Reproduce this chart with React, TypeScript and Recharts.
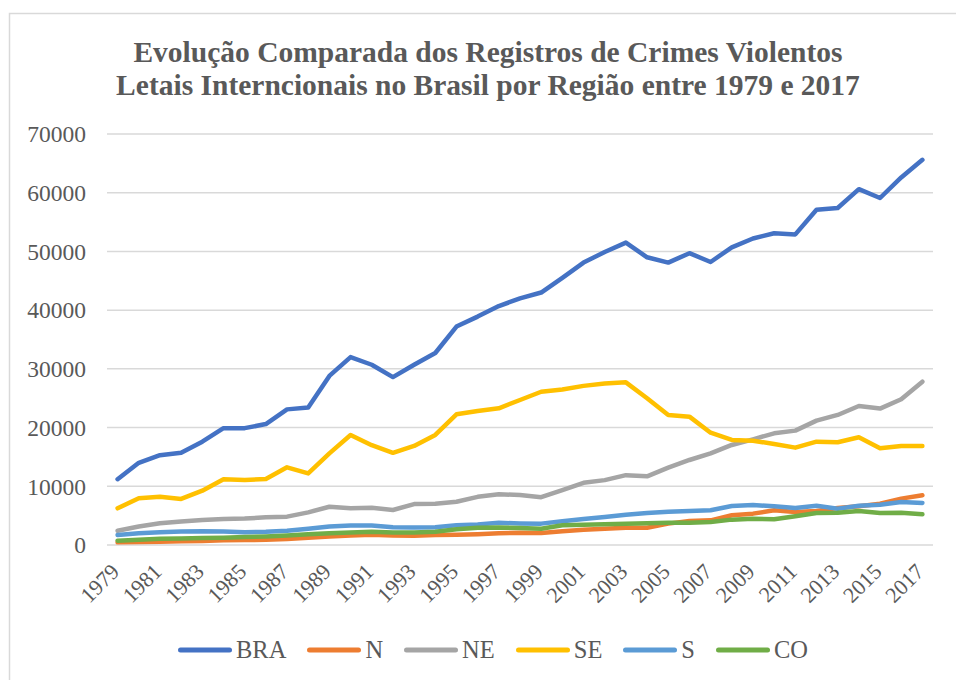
import React from 'react';
import { LineChart, Line, XAxis, YAxis, CartesianGrid, Legend } from 'recharts';

const years = [
  '1979','1980','1981','1982','1983','1984','1985','1986','1987','1988',
  '1989','1990','1991','1992','1993','1994','1995','1996','1997','1998',
  '1999','2000','2001','2002','2003','2004','2005','2006','2007','2008',
  '2009','2010','2011','2012','2013','2014','2015','2016','2017',
];

const BRA = [11200,14000,15300,15700,17600,19900,19900,20600,23100,23400,28800,32000,30700,28600,30700,32700,37200,38900,40700,42000,43000,45500,48100,49900,51500,49000,48100,49700,48200,50700,52200,53100,52900,57100,57400,60600,59100,62600,65600];
const N = [450,500,560,620,670,790,840,900,1010,1240,1460,1630,1740,1630,1570,1690,1740,1850,2020,2100,2040,2330,2610,2780,2950,2950,3640,4090,4200,5060,5340,5910,5620,5790,6300,6590,7040,7900,8460];
const NE = [2420,3150,3700,3990,4270,4440,4500,4720,4830,5560,6520,6240,6350,5960,6970,7030,7360,8200,8650,8500,8150,9350,10600,11050,11900,11700,13170,14480,15620,17040,18000,19020,19480,21180,22150,23680,23230,24820,27820];
const SE = [6250,7950,8230,7840,9250,11200,11070,11240,13230,12200,15600,18740,17000,15700,16870,18740,22260,22830,23280,24700,26100,26500,27100,27500,27700,25000,22150,21860,19130,17900,17770,17200,16580,17600,17500,18350,16470,16870,16870];
const S = [1700,2020,2190,2300,2360,2300,2190,2250,2420,2750,3150,3320,3320,3030,2980,3030,3370,3480,3770,3680,3640,4030,4430,4770,5170,5450,5680,5790,5910,6650,6820,6590,6300,6700,6190,6700,6870,7330,7160];
const CO = [730,900,1070,1120,1180,1240,1350,1460,1630,1850,2020,2140,2250,2140,2140,2250,2700,2920,2980,2900,2780,3350,3460,3520,3640,3690,3810,3810,3920,4320,4490,4370,4880,5450,5510,5790,5450,5510,5230];

const yTicks = [0, 10000, 20000, 30000, 40000, 50000, 60000, 70000];

const seriesDefs = [
  { key: 'BRA', values: BRA, color: '#4472C4' },
  { key: 'N', values: N, color: '#ED7D31' },
  { key: 'NE', values: NE, color: '#A5A5A5' },
  { key: 'SE', values: SE, color: '#FFC000' },
  { key: 'S', values: S, color: '#5B9BD5' },
  { key: 'CO', values: CO, color: '#70AD47' },
];

const data = years.map((year, i) => {
  const row: Record<string, string | number> = { year };
  seriesDefs.forEach((s) => {
    row[s.key] = s.values[i];
  });
  return row;
});

const FONT = '"Liberation Serif", "Times New Roman", serif';
const TEXT = '#595959';

const XTick = (props: any) => {
  const { x, y, payload } = props;
  const tx = x + 3;
  const ty = y + 20;
  return (
    <text
      x={tx}
      y={ty}
      transform={`rotate(-45, ${tx}, ${ty})`}
      textAnchor="end"
      fill={TEXT}
      fontSize={22}
      fontFamily={FONT}
    >
      {payload.value}
    </text>
  );
};

const LegendContent = (props: any) => {
  const payload = props.payload || [];
  const order = seriesDefs.map((s) => s.key);
  const items = [...payload].sort(
    (a: any, b: any) => order.indexOf(String(a.value)) - order.indexOf(String(b.value))
  );
  return (
    <div style={{ display: 'flex', alignItems: 'center', paddingLeft: 178 }}>
      {items.map((p: any, idx: number) => (
        <div key={p.value} style={{ display: 'flex', alignItems: 'center', marginRight: idx < items.length - 1 ? 21 : 0 }}>
          <svg width={54} height={10} style={{ display: 'block' }}>
            <line x1={2.5} y1={5} x2={51.5} y2={5} stroke={p.color} strokeWidth={5} strokeLinecap="round" />
          </svg>
          <span style={{ marginLeft: 4, fontFamily: FONT, fontSize: 24.5, color: TEXT, lineHeight: '28px' }}>{p.value}</span>
        </div>
      ))}
    </div>
  );
};

export default function App() {
  return (
    <div style={{ position: 'absolute', left: 0, top: 0, width: 956, height: 680, background: '#fff', overflow: 'hidden' }}>
      <svg width={956} height={680} style={{ position: 'absolute', left: 0, top: 0 }}>
        <rect x={9.5} y={13.5} width={1000} height={700} fill="#fff" stroke="#d9d9d9" strokeWidth={1.5} />
      </svg>
      <div style={{ position: 'absolute', left: 0, top: 0 }}>
        <LineChart
          width={956}
          height={680}
          data={data}
          margin={{ top: 134, right: 23, bottom: 75, left: 0 }}
        >
          <CartesianGrid horizontal vertical={false} stroke="#d9d9d9" strokeWidth={1.5} />
          <XAxis
            dataKey="year"
            interval={1}
            axisLine={false}
            tickLine={false}
            height={60}
            padding={{ left: 10.6, right: 10.6 }}
            tick={<XTick />}
          />
          <YAxis
            width={107}
            domain={[0, 70000]}
            ticks={yTicks}
            axisLine={false}
            tickLine={false}
            tickMargin={15}
            tick={{ fill: TEXT, fontSize: 23.5, fontFamily: FONT }}
          />
          <Legend
            layout="horizontal"
            verticalAlign="middle"
            align="center"
            wrapperStyle={{ left: 0, top: 636, width: 956 }}
            content={<LegendContent />}
          />
          {seriesDefs.map((s) => (
            <Line
              key={s.key}
              type="linear"
              dataKey={s.key}
              name={s.key}
              stroke={s.color}
              strokeWidth={4.5}
              strokeLinecap="round"
              strokeLinejoin="round"
              dot={false}
              activeDot={false}
              isAnimationActive={false}
            />
          ))}
        </LineChart>
      </div>
      <svg width={956} height={120} style={{ position: 'absolute', left: 0, top: 0, pointerEvents: 'none' }}>
        <text x={488} y={62} textAnchor="middle" fontFamily={FONT} fontWeight="bold" fontSize={29.5} fill={TEXT}>
          Evolução Comparada dos Registros de Crimes Violentos
        </text>
        <text x={488} y={95} textAnchor="middle" fontFamily={FONT} fontWeight="bold" fontSize={29.5} fill={TEXT}>
          Letais Interncionais no Brasil por Região entre 1979 e 2017
        </text>
      </svg>
    </div>
  );
}
